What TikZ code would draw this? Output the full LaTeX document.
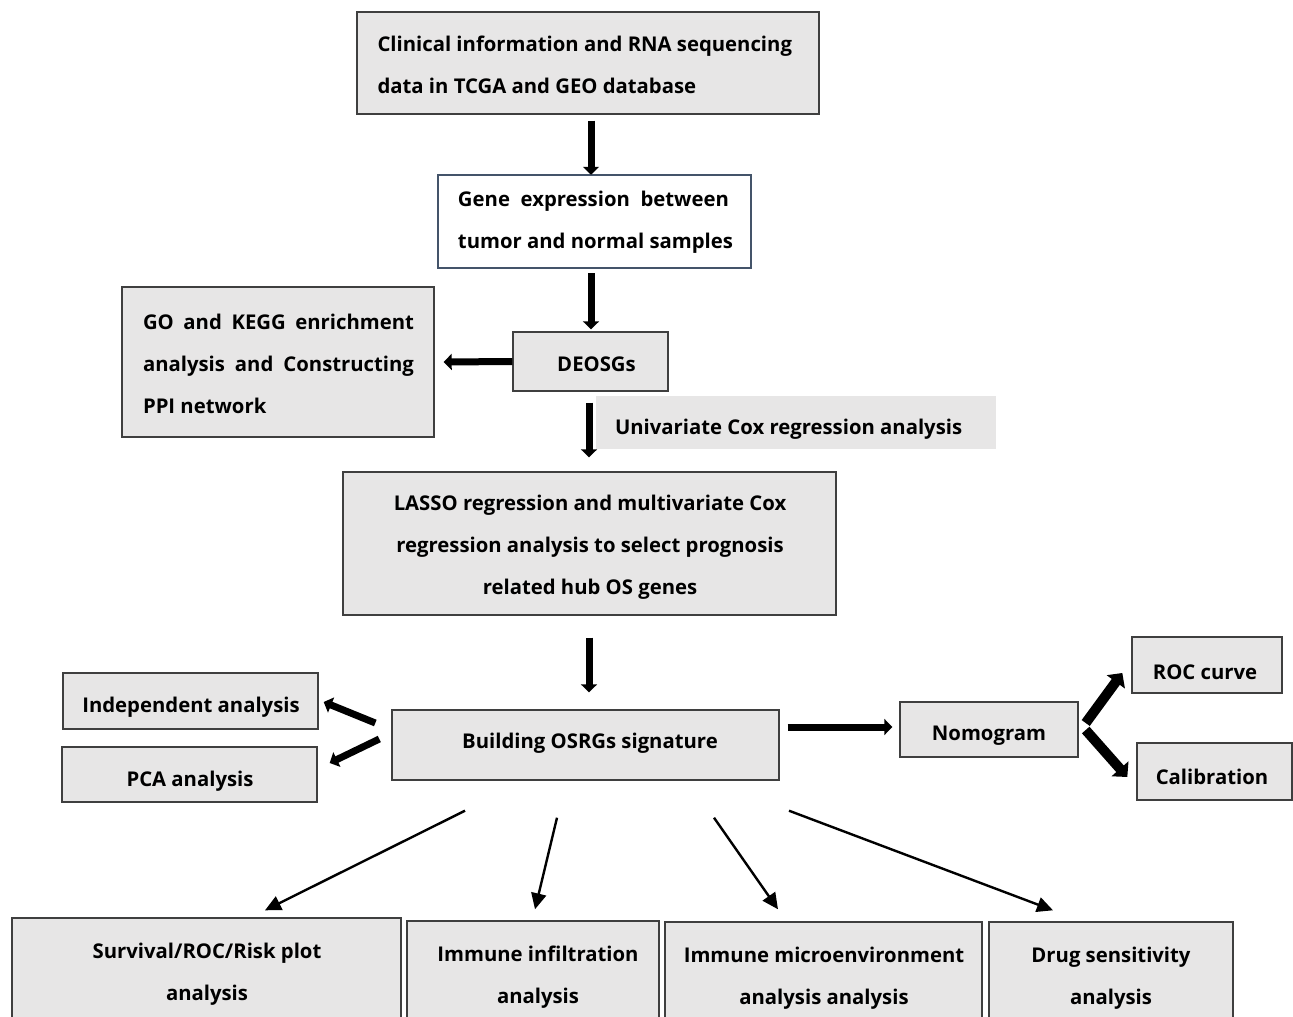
\documentclass[tikz,border=0pt]{standalone}
\usepackage{fontspec}
\setmainfont{Open Sans}
\usetikzlibrary{arrows.meta,calc}
\definecolor{boxfill}{HTML}{E7E6E6}
\definecolor{boxline}{HTML}{3F3F3F}
\definecolor{blueline}{HTML}{44546A}
\begin{document}
\begin{tikzpicture}[x=1pt,y=-1pt,
 box/.style={draw=boxline, fill=boxfill, line width=1.4pt, inner sep=0pt, rectangle},
 txt/.style={font=\fontsize{20.3}{42}\selectfont\bfseries, align=center, inner sep=0pt},
 bigarr/.style={line width=7pt, -{Triangle[width=16pt,length=8pt]}},
 hugearr/.style={line width=10pt, -{Triangle[width=22pt,length=11pt]}},
 thinarr/.style={line width=2.4pt, -{Triangle[width=15pt,length=16pt]}},
]
\fill[white] (0,0) rectangle (1293,1017);
\useasboundingbox (0,0) rectangle (1293,1017);
\clip (0,0) rectangle (1293,1017);

% boxes
\node[box, minimum width=462pt, minimum height=102pt] (b1) at (588,63) {};
\node[box, fill=white, draw=blueline, line width=2.5pt, minimum width=313pt, minimum height=93pt] (b2) at (594.5,221.5) {};
\node[box, minimum width=312pt, minimum height=150pt] (go) at (278,362) {};
\node[box, minimum width=155pt, minimum height=59pt] (deo) at (590.5,361.5) {};
\node[fill=boxfill, inner sep=0pt, minimum width=400pt, minimum height=53pt] (uni) at (796,422.5) {};
\node[box, minimum width=493pt, minimum height=143pt] (lasso) at (589.5,543.5) {};
\node[box, minimum width=387pt, minimum height=70pt] (build) at (585.5,745) {};
\node[box, minimum width=255pt, minimum height=56pt] (indep) at (190.5,701) {};
\node[box, minimum width=255pt, minimum height=55pt] (pca) at (189.5,774.5) {};
\node[box, minimum width=178pt, minimum height=55pt] (nomo) at (989,729.5) {};
\node[box, minimum width=150pt, minimum height=56pt] (roc) at (1207,665) {};
\node[box, minimum width=155pt, minimum height=57pt] (cal) at (1214.5,771.5) {};
\node[box, minimum width=389pt, minimum height=140pt] (sb) at (206.5,988) {};
\node[box, minimum width=252pt, minimum height=140pt] (ii) at (533,991) {};
\node[box, minimum width=317pt, minimum height=140pt] (im) at (823.5,992) {};
\node[box, minimum width=244pt, minimum height=140pt] (ds) at (1111,992) {};

% texts
\node[txt, anchor=west, align=left] (t1) at ($(b1.west)+(21,2)$) {Clinical information and RNA sequencing\\data in TCGA and GEO database};
\node[txt, align=left] (t2) at ($(b2.center)+(1,1)$) {\makebox[271pt][s]{Gene expression between}\\tumor and normal samples};
\node[txt, align=left] (tgo) at ($(go.center)+(0.5,2)$) {\makebox[271pt][s]{GO and KEGG enrichment}\\\makebox[271pt][s]{analysis and Constructing}\\PPI network};
\node[txt] (tdeo) at ($(deo.center)+(6,3)$) {DEOSGs};
\node[txt, anchor=west] (tuni) at ($(uni.west)+(19,6.5)$) {Univariate Cox regression analysis};
\node[txt] (tlasso) at ($(lasso.center)+(0.5,3.5)$) {LASSO regression and multivariate Cox\\regression analysis to select prognosis\\related hub OS genes};
\node[txt] (tbuild) at ($(build.center)+(4.5,-1.5)$) {Building OSRGs signature};
\node[txt] (tindep) at ($(indep.center)+(0.5,6)$) {Independent analysis};
\node[txt] (tpca) at ($(pca.center)+(0.5,6.5)$) {PCA analysis};
\node[txt] (tnomo) at ($(nomo.center)+(0,6.5)$) {Nomogram};
\node[txt] (troc) at ($(roc.center)+(-2,7)$) {ROC curve};
\node[txt] (tcal) at ($(cal.center)+(-2.5,5)$) {Calibration};
\node[txt] (tsb) at ($(sb.north)+(0.5,56.5)$) {Survival/ROC/Risk plot\\analysis};
\node[txt] (tii) at ($(ii.north)+(5,56.5)$) {Immune infiltration\\analysis};
\node[txt] (tim) at ($(im.north)+(0.5,56.5)$) {Immune microenvironment\\analysis analysis};
\node[txt] (tds) at ($(ds.north)+(0,56.5)$) {Drug sensitivity\\analysis};

% arrows
\draw[bigarr] ($(b1.south)+(3,6)$) -- ($(b2.north)+(-3.5,1)$);
\draw[bigarr] ($(b2.south)+(-3.5,4)$) -- ($(deo.north)+(0.5,-2)$);
\draw[bigarr] (deo.west) -- ($(go.east)+(9,0)$);
\draw[bigarr] ($(deo.south)+(-1.5,11)$) -- ($(lasso.north)+(-0.5,-14)$);
\draw[bigarr] ($(lasso.south)+(-0.5,22)$) -- ($(build.north)+(3.5,-17)$);
\draw[bigarr] ($(build.west)+(-16,-22)$) -- ($(indep.east)+(5,1)$);
\draw[bigarr] ($(build.west)+(-12,-6)$) -- ($(pca.east)+(12,-11.5)$);
\draw[bigarr] ($(build.east)+(8,-18)$) -- ($(nomo.west)+(-7,-2.5)$);
\draw[hugearr] ($(nomo.east)+(7,-6.5)$) -- ($(roc.west)+(-9,8)$);
\draw[hugearr] ($(nomo.east)+(7,0.5)$) -- ($(cal.west)+(-9,5.5)$);
\draw[thinarr] ($(build.south)+(-120.5,30)$) -- ($(sb.north)+(58.5,-7)$);
\draw[thinarr] ($(build.south)+(-28.5,37)$) -- ($(ii.north)+(2,-11)$);
\draw[thinarr] ($(build.south)+(128.5,37)$) -- ($(im.north)+(-45.5,-12)$);
\draw[thinarr] ($(build.south)+(203.5,30)$) -- ($(ds.north)+(-58,-11)$);
\end{tikzpicture}
\end{document}
